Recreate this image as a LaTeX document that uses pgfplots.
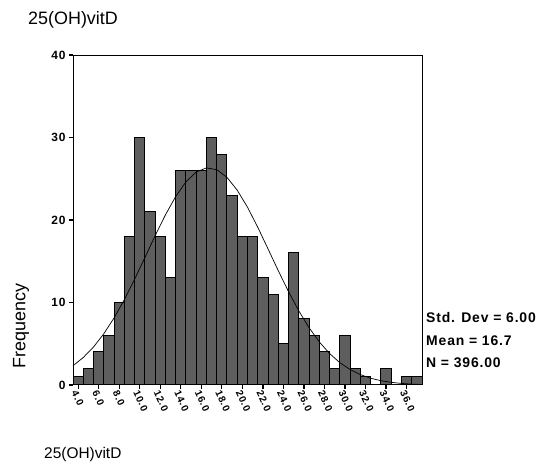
\documentclass[border=0pt]{standalone}
\usepackage{pgfplots}
\pgfplotsset{compat=1.18}
\usepackage{fontspec}
\setmainfont{Liberation Sans}
\setsansfont{Liberation Sans}
\newfontfamily\statfont[LetterSpace=6]{Liberation Sans}
\definecolor{barfill}{HTML}{5E5E5E}

% frequency per 1-unit bin (bin centre, count)
\pgfplotstableread{
x f
4 1
5 2
6 4
7 6
8 10
9 18
10 30
11 21
12 18
13 13
14 26
15 26
16 26
17 30
18 28
19 23
20 18
21 18
22 13
23 11
24 5
25 16
26 8
27 6
28 4
29 2
30 6
31 2
32 1
33 0
34 2
35 0
36 1
37 1
}\histdata

\begin{document}
\begin{tikzpicture}
\path[use as bounding box] (0,0) rectangle (547bp,472bp);
\begin{axis}[
  at={(73bp,87bp)}, anchor=south west,
  scale only axis, width=349bp, height=330bp,
  xmin=3.5, xmax=37.5, ymin=0, ymax=40,
  xtick={4,6,...,36},
  ytick={0,10,20,30,40},
  xtick pos=bottom, ytick pos=left,
  tick align=outside,
  major tick length=4bp,
  tick style={black, line width=1.2bp},
  axis line style={black, line width=1bp},
  xticklabel style={/pgf/number format/.cd, fixed, fixed zerofill, precision=1, /tikz/.cd,
    rotate=-65, anchor=north west, font=\statfont\bfseries\fontsize{10}{11}\selectfont, inner sep=0.5bp},
  yticklabel style={font=\statfont\bfseries\fontsize{12}{13}\selectfont},
  /pgf/number format/assume math mode=true,
  clip=false,
]
\addplot[ybar, bar width=1, fill=barfill, draw=black, line width=1bp] table[x=x, y=f] {\histdata};
\addplot[black, line width=0.7bp] coordinates {
  (3.5,2.34) (4.5,3.33) (5.5,4.61) (6.5,6.21) (7.5,8.13) (8.5,10.35)
  (9.5,12.82) (10.5,15.44) (11.5,18.09) (12.5,20.61) (13.5,22.84)
  (14.5,24.62) (15.5,25.81) (16.5,26.32) (17.5,26.10) (18.5,25.17)
  (19.5,23.61) (20.5,21.55) (21.5,19.12) (22.5,16.50) (23.5,13.85)
  (24.5,11.31) (25.5,8.98) (26.5,6.94) (27.5,5.21) (28.5,3.81)
  (29.5,2.70) (30.5,1.87) (31.5,1.26) (32.5,0.82) (33.5,0.52)
  (34.5,0.32) (35.5,0.19) (36.5,0.11) (37.5,0.06)};
\end{axis}
\node[anchor=west, font=\fontsize{18}{20}\selectfont, inner sep=0] at (28bp,452bp) {25(OH)vitD};
\node[rotate=90, font=\fontsize{18}{20}\selectfont, inner sep=0] at (21bp,146bp) {Frequency};
\node[anchor=west, font=\fontsize{15.5}{17}\selectfont, inner sep=0] at (44bp,17bp) {25(OH)vitD};
\node[anchor=west, font=\statfont\bfseries\fontsize{14}{16}\selectfont, inner sep=0] at (426bp,154bp) {Std. Dev = 6.00};
\node[anchor=west, font=\statfont\bfseries\fontsize{14}{16}\selectfont, inner sep=0] at (426bp,131bp) {Mean = 16.7};
\node[anchor=west, font=\statfont\bfseries\fontsize{14}{16}\selectfont, inner sep=0] at (426bp,109bp) {N = 396.00};
\end{tikzpicture}
\end{document}
